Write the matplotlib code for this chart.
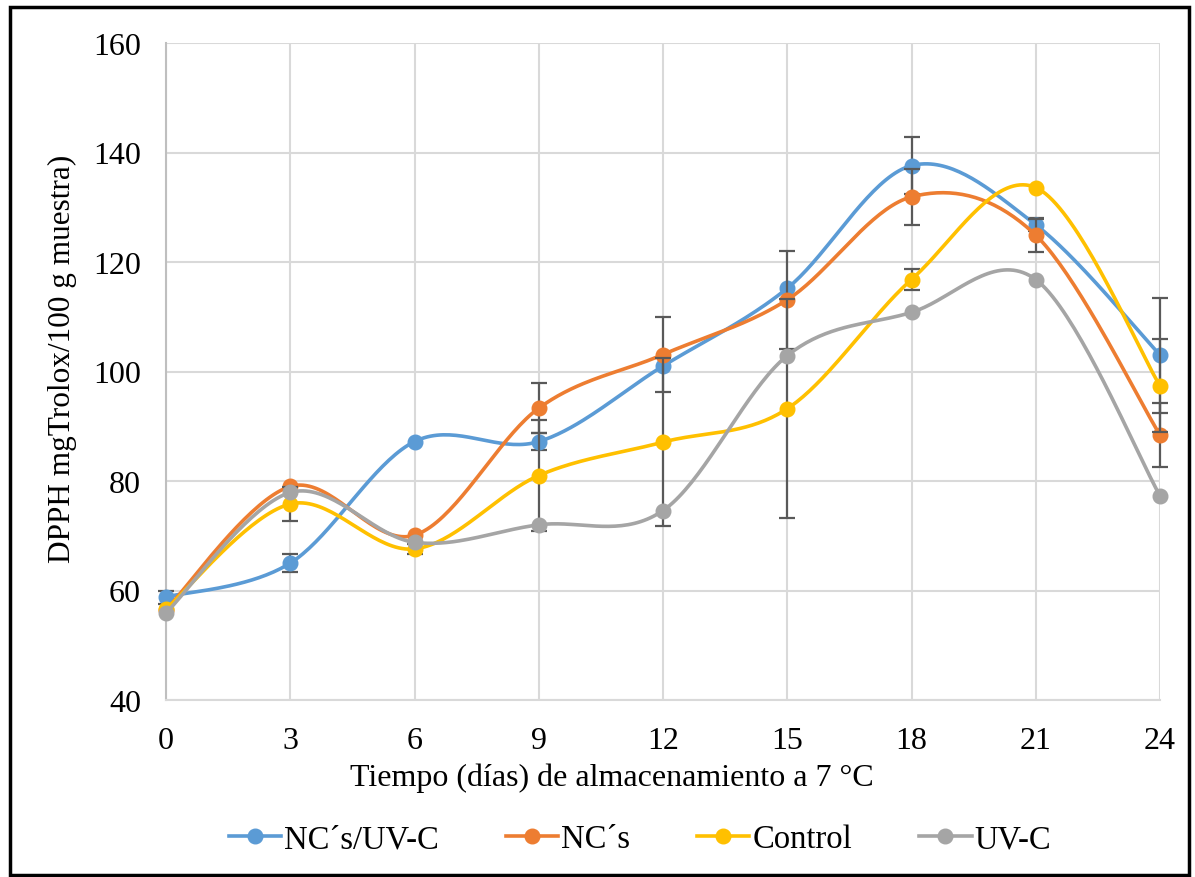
import numpy as np
import matplotlib
matplotlib.use("Agg")
import matplotlib.pyplot as plt
from matplotlib.patches import Rectangle

# Data
dias = [0, 3, 6, 9, 12, 15, 18, 21, 24]
series_names = ["NC´s/UV-C", "NC´s", "Control", "UV-C"]

nc_uvc = [58.8, 65.0, 87.2, 87.2, 101.0, 115.2, 137.6, 126.8, 103.0]
nc = [56.5, 79.0, 70.1, 93.3, 103.1, 113.1, 131.9, 124.9, 88.4]
control = [56.6, 75.8, 67.6, 81.0, 87.1, 93.2, 116.8, 133.6, 97.4]
uvc = [55.9, 77.9, 68.8, 72.0, 74.6, 102.9, 110.8, 116.8, 77.3]

err_nc_uvc = [1.2, 1.7, 0, 1.5, 0, 0, 5.2, 1.2, 10.5]
err_nc = [0, 0, 0, 4.6, 6.8, 9.0, 5.1, 3.0, 5.9]
err_control = [0, 3.1, 0.9, 10.1, 15.3, 20.0, 1.9, 0, 8.5]
err_uvc = [0, 0, 0, 0, 0, 0, 0, 0, 0]

colores = ["#5B9BD5", "#ED7D31", "#FFC000", "#A5A5A5"]


def suavizar(x, y, n=40):
    # Excel-like smoothed line: Catmull-Rom as cubic Bezier segments
    x = np.asarray(x, float)
    y = np.asarray(y, float)
    px, py = [], []
    for i in range(len(x) - 1):
        x0, y0 = (x[i - 1], y[i - 1]) if i > 0 else (x[i], y[i])
        x3, y3 = (x[i + 2], y[i + 2]) if i + 2 < len(x) else (x[i + 1], y[i + 1])
        x1, y1 = x[i], y[i]
        x2, y2 = x[i + 1], y[i + 1]
        c1x, c1y = x1 + (x2 - x0) / 6, y1 + (y2 - y0) / 6
        c2x, c2y = x2 - (x3 - x1) / 6, y2 - (y3 - y1) / 6
        t = np.linspace(0, 1, n)
        bx = (1 - t) ** 3 * x1 + 3 * (1 - t) ** 2 * t * c1x + 3 * (1 - t) * t ** 2 * c2x + t ** 3 * x2
        by = (1 - t) ** 3 * y1 + 3 * (1 - t) ** 2 * t * c1y + 3 * (1 - t) * t ** 2 * c2y + t ** 3 * y2
        px.extend(bx)
        py.extend(by)
    return np.array(px), np.array(py)


plt.rcParams['font.family'] = ['Liberation Serif', 'DejaVu Serif']

fig = plt.figure(figsize=(11.95, 8.78), dpi=100)
ax = fig.add_axes([166 / 1195, 1 - 701 / 878, (1160 - 166) / 1195, (701 - 44) / 878])

valores = [nc_uvc, nc, control, uvc]
errores = [err_nc_uvc, err_nc, err_control, err_uvc]

handles = []
for k, (vals, errs, col, nombre) in enumerate(zip(valores, errores, colores, series_names)):
    z = 3 + k
    e = np.array(errs, float)
    m = e > 0
    if m.any():
        ax.errorbar(np.array(dias)[m], np.array(vals)[m], yerr=e[m], fmt='none',
                    ecolor='#595959', elinewidth=1.6, capsize=6, capthick=1.6,
                    zorder=z, clip_on=False)
    sx, sy = suavizar(dias, vals)
    ax.plot(sx, sy, color=col, lw=2.6, zorder=z, solid_capstyle='round', clip_on=False)
    ax.plot(dias, vals, 'o', color=col, ms=10.5, zorder=z, clip_on=False)
    handles.append(plt.Line2D([], [], color=col, lw=2.6, marker='o', ms=10.5))

ax.set_xlim(0, 24)
ax.set_ylim(40, 160)
ax.set_xticks(dias)
ax.set_yticks(range(40, 161, 20))
ax.grid(True, color='#d9d9d9', lw=1.5, zorder=0)
ax.set_axisbelow(True)
for s in ['top', 'right']:
    ax.spines[s].set_visible(False)
ax.spines['left'].set_color('#bfbfbf')
ax.spines['bottom'].set_color('#d9d9d9')
ax.spines['left'].set_linewidth(1.5)
ax.spines['bottom'].set_linewidth(1.5)
ax.tick_params(axis='both', length=0, labelsize=23, colors='black')
ax.tick_params(axis='x', pad=19)
ax.tick_params(axis='y', pad=18)

ax.set_xlabel("Tiempo (días) de almacenamiento a 7 °C", fontsize=23)
ax.set_ylabel("DPPH mgTrolox/100 g muestra)", fontsize=22.5)
ax.xaxis.set_label_coords((612 - 166) / 994, -(778 - 701) / 657)
ax.yaxis.set_label_coords(-(166 - 62) / 994, (701 - 359) / 657)
ax.xaxis.label.set_va('center')
ax.yaxis.label.set_va('center')

fig.legend(handles, series_names, loc='center', bbox_to_anchor=(640 / 1195, 1 - 840 / 878),
           ncol=4, frameon=False, fontsize=23.5, handlelength=1.6,
           handletextpad=0.1, columnspacing=2.05)

# outer chart border
fig.patches.append(Rectangle((10 / 1195, 2 / 878), 1 - 16 / 1195, 1 - 10 / 878,
                             transform=fig.transFigure, fill=False,
                             edgecolor='black', lw=2.5))

fig.savefig("out.png", dpi=100)
